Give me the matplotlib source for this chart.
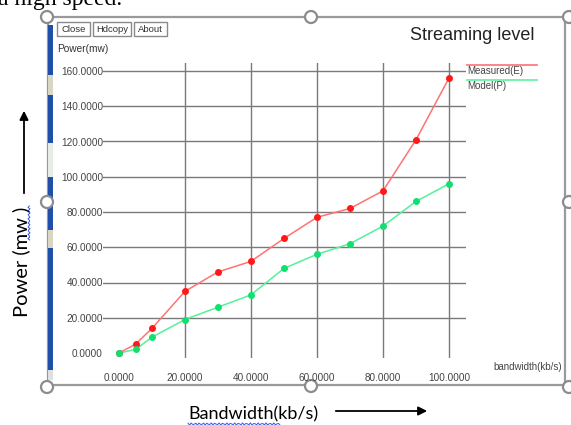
import matplotlib.pyplot as plt
from matplotlib.patches import Rectangle, Circle, FancyArrowPatch
import numpy as np

# data
bandwidth = [0, 5, 10, 20, 30, 40, 50, 60, 70, 80, 90, 100]
measured = [0, 5, 14, 35, 46, 52, 65, 77, 82, 92, 121, 156]
model = [0, 2, 9, 19, 26, 33, 48, 56, 62, 72, 86, 96]
series_names = ["Measured(E)", "Model(P)"]
xticks = [0, 20, 40, 60, 80, 100]
yticks = [0, 20, 40, 60, 80, 100, 120, 140, 160]

W, H = 571, 425
fig = plt.figure(figsize=(W / 100, H / 100), dpi=100)
plt.rcParams['font.family'] = ['Liberation Sans', 'DejaVu Sans']

# overlay in pixel coords for the screenshot decorations
deco = fig.add_axes([0, 0, 1, 1])
deco.set_xlim(0, W)
deco.set_ylim(H, 0)
deco.axis('off')

# cut-off document text at the very top
deco.text(-2, 5, "a high speed.", family='Liberation Serif', fontsize=17,
          va='baseline', ha='left', color='black')

# frame of the embedded object
deco.add_patch(Rectangle((48, 17), 517, 368, fill=False, ec='#9a9a9a', lw=1.6))
# blue bar on the left
deco.add_patch(Rectangle((47.5, 25), 5, 345, color='#1f4fa8', lw=0))
for y0, h, c in [(75, 20, '#d9d6c3'), (143, 34, '#e8ece6'), (230, 18, '#d9d6c3'), (370, 10, '#e0e0e0')]:
    deco.add_patch(Rectangle((47.5, y0), 5, h, color=c, lw=0))

# selection handles
for cx, cy in [(47, 17), (311, 17), (569, 17), (47, 202), (569, 202),
               (47, 387), (311, 386), (569, 387)]:
    deco.add_patch(Circle((cx, cy), 6, fc='white', ec='#8c8c8c', lw=1.6, zorder=5))

# buttons
for x0, x1, lbl in [(57, 90, "Close"), (93, 131, "Hdcopy"), (134, 167, "About")]:
    deco.add_patch(Rectangle((x0, 22), x1 - x0, 14, fill=False, ec='#8a8a8a', lw=1))
    deco.text((x0 + x1) / 2, 29.5, lbl, fontsize=6.8, ha='center', va='center', color='#333333')

deco.text(57, 49, "Power(mw)", fontsize=7.3, ha='left', va='center', color='#333333')
deco.text(535, 35, "Streaming level", fontsize=13, ha='right', va='center', color='#222222')
deco.text(562, 367, "bandwidth(kb/s)", fontsize=7, ha='right', va='center', color='#444444')

# legend
for ly, col, name in [(65, '#ff6f6f', series_names[0]), (80, '#5df0a0', series_names[1])]:
    deco.plot([467, 537], [ly, ly], color=col, lw=1.2)
    deco.text(467, ly + 6, name, fontsize=7, ha='left', va='center', color='#444444')

# outer labels in the document
deco.text(21, 262, "Power (mw )", rotation=90, fontsize=14.5, family='Lato',
          ha='center', va='center', color='black')
deco.add_patch(FancyArrowPatch((24, 196), (24, 108), arrowstyle='-|>', mutation_scale=13,
                               color='black', lw=1.3))
deco.text(253, 414, "Bandwidth(kb/s)", fontsize=13, family='Lato',
          ha='center', va='center', color='black')
deco.add_patch(FancyArrowPatch((333, 411), (430, 411), arrowstyle='-|>', mutation_scale=13,
                               color='black', lw=1.3))
# spell check squiggles
wx = np.linspace(188, 280, 60)
deco.plot(wx, 424 + 1.1 * np.sin(wx * 1.6), color='#3355ee', lw=0.7)
wy = np.linspace(206, 240, 25)
deco.plot(29 + 1.1 * np.sin(wy * 1.6), wy, color='#3355ee', lw=0.7)

# the chart itself
x0px, x1px, ytop, ybot = 103, 466, 63, 358
ax = fig.add_axes([x0px / W, (H - ybot) / H, (x1px - x0px) / W, (ybot - ytop) / H])
ax.patch.set_alpha(0)
ax.set_xlim(-16 / 3.3, 347 / 3.3)
ax.set_ylim(-5 / 1.7625, 290 / 1.7625)
for s in ax.spines.values():
    s.set_visible(False)
for v in yticks[1:]:
    ax.axhline(v, color='#7a7a7a', lw=1, zorder=1)
for v in xticks[1:]:
    ax.axvline(v, color='#7a7a7a', lw=1, zorder=1)
ax.set_xticks(xticks)
ax.set_xticklabels(["%.4f" % v for v in xticks])
ax.set_yticks(yticks)
ax.set_yticklabels(["%.4f" % v for v in yticks])
ax.tick_params(length=0, labelsize=7.2, labelcolor='#444444')
ax.tick_params(axis='x', pad=11)
ax.tick_params(axis='y', pad=0)

ax.plot(bandwidth, measured, color='#ff7373', lw=1.1, zorder=3)
ax.plot(bandwidth, measured, 'o', color='#ff1a1a', ms=4, zorder=4)
ax.plot(bandwidth, model, color='#55f09a', lw=1.1, zorder=3)
ax.plot(bandwidth, model, 'o', color='#10e070', ms=4, zorder=4)

fig.savefig("out.png", dpi=100)
